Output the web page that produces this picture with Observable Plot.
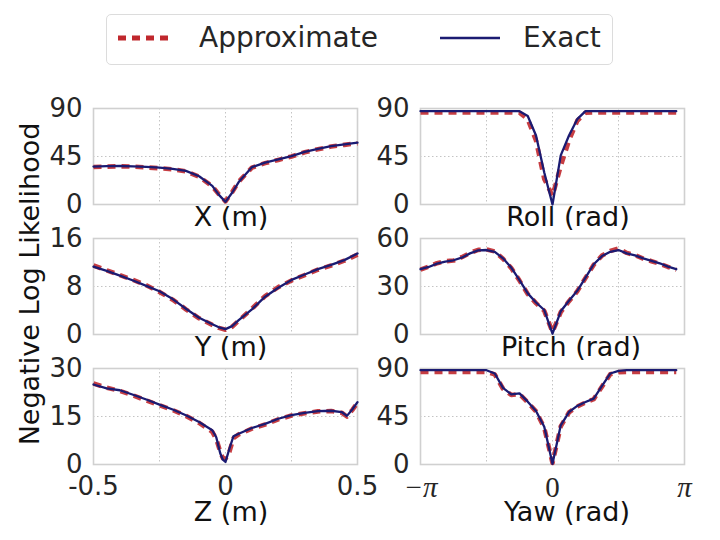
<!DOCTYPE html>
<html><head><meta charset="utf-8">
<script src="https://cdn.jsdelivr.net/npm/d3@7"></script>
<script src="https://cdn.jsdelivr.net/npm/@observablehq/plot@0.6"></script>
<style>
body{margin:0;background:#fff;}
#fig{position:relative;width:720px;height:540px;background:#fff;font-family:"DejaVu Sans",sans-serif;overflow:hidden;}
.txt{position:absolute;line-height:1;white-space:nowrap;}
.xlab{font-size:27px;color:#111;transform:translateX(-50%);}
</style></head><body><div id="fig"></div>
<script>
// ---- data ----
const leftX = [-0.5,-0.45,-0.4,-0.35,-0.3,-0.25,-0.2,-0.15,-0.1,-0.05,-0.025,0,0.025,0.05,0.1,0.15,0.2,0.25,0.3,0.35,0.4,0.45,0.5];
const xExact  = [35.6,35.9,36.1,35.8,35.2,34.5,33.4,31.5,26.5,17.5,9.0,2.5,11.0,21.0,35.0,39.3,42.2,45.3,49.3,52.2,54.8,56.3,58.0];
const xApprox = [35.2,35.5,35.8,35.5,34.8,34.0,33.0,31.0,26.0,17.0,9.5,3.0,11.5,21.5,34.5,38.8,41.8,45.0,49.0,51.8,54.3,55.9,57.5];
const yExact  = [11.3,10.6,9.8,9.0,8.1,7.2,5.9,4.3,2.8,1.7,1.2,0.9,1.4,2.4,4.2,6.3,7.8,9.1,10.0,10.9,11.6,12.4,13.5];
const yApprox = [11.5,10.7,9.9,9.1,8.2,7.1,5.8,4.2,2.7,1.6,1.1,0.8,1.3,2.3,4.3,6.4,7.9,9.0,9.9,10.8,11.5,12.3,13.3];
const zX = [-0.5,-0.45,-0.4,-0.35,-0.3,-0.25,-0.2,-0.15,-0.1,-0.05,-0.035,-0.02,-0.01,0,0.015,0.03,0.05,0.1,0.15,0.2,0.25,0.3,0.35,0.4,0.44,0.46,0.48,0.5];
const zExact  = [25.0,23.8,23.2,21.8,20.3,18.7,17.2,15.4,13.3,10.7,8.5,3.5,1.5,0.8,5.0,8.8,9.6,11.4,12.7,14.3,15.4,16.1,16.7,16.8,16.4,15.2,17.2,19.5];
const zApprox = [25.3,24.0,23.0,21.6,20.0,18.5,17.0,15.2,13.0,10.2,8.0,4.0,2.0,1.8,4.0,8.2,9.4,11.2,12.5,14.1,15.3,16.0,16.6,16.7,16.2,15.0,17.0,19.3];

const angles = [-3.1416,-2.9452,-2.7489,-2.5525,-2.3562,-2.1598,-1.9635,-1.7671,-1.5708,-1.3744,-1.1781,-0.9817,-0.7854,-0.5890,-0.3927,-0.1963,0,0.1963,0.3927,0.5890,0.7854,0.9817,1.1781,1.3744,1.5708,1.7671,1.9635,2.1598,2.3562,2.5525,2.7489,2.9452];
const rollExact  = [87.5,87.5,87.5,87.5,87.5,87.5,87.5,87.5,87.5,87.5,87.5,87.5,87.5,83.0,64.7,30.0,0.0,46.0,64.7,80.0,87.5,87.5,87.5,87.5,87.5,87.5,87.5,87.5,87.5,87.5,87.5,87.5];
const rollApprox = [86.3,86.3,86.3,86.3,86.3,86.3,86.3,86.3,86.3,86.3,86.3,86.3,86.0,80.0,60.0,24.0,8.0,36.0,60.0,78.5,86.0,86.3,86.3,86.3,86.3,86.3,86.3,86.3,86.3,86.3,86.3,86.3];
const pitchExact  = [40.8,42.2,44.3,45.5,46.4,48.0,50.7,52.6,52.8,51.7,47.6,41.8,34.0,25.7,20.0,15.3,0.5,14.5,21.1,27.3,35.6,43.9,49.0,51.7,52.8,50.7,49.5,47.6,46.0,44.5,42.4,40.8];
const pitchApprox = [40.5,42.4,44.6,45.8,46.2,48.3,51.0,52.9,53.2,51.9,47.3,41.5,33.7,25.3,19.6,14.8,1.5,14.0,20.8,27.0,35.3,43.6,49.3,52.2,53.8,51.0,49.6,47.4,45.8,44.2,42.2,40.5];
const yawExact  = [88.4,88.4,88.4,88.4,88.4,88.4,88.4,88.4,88.4,85.3,71.8,65.8,66.7,58.9,50.2,35.4,0.6,36.7,49.2,54.9,58.6,61.8,73.6,85.3,87.8,88.4,88.4,88.4,88.4,88.4,88.4,88.4];
const yawApprox = [86.8,86.8,86.8,86.8,86.8,86.8,86.8,86.8,86.8,84.5,71.0,65.2,66.0,58.3,49.8,34.5,1.5,35.8,48.8,54.4,58.1,61.3,73.0,84.6,86.6,86.8,86.8,86.8,86.8,86.8,86.8,86.8];

const leftTicks = [-0.5, 0, 0.5];
const leftTickLabels = ["-0.5", "0", "0.5"];
const leftGrid = [-0.25, 0, 0.25];
const rightTicks = [-3.14159265, 0, 3.14159265];
const rightTickLabels = ["\u2212\u03c0", "0", "\u03c0"];
const rightGrid = [-1.5707963, 0, 1.5707963];
const seriesNames = ["Approximate", "Exact"];
const axisLabels = ["X (m)", "Roll (rad)", "Y (m)", "Pitch (rad)", "Z (m)", "Yaw (rad)"];
const yLabel = "Negative Log Likelihood";

const RED = "#c0282d", BLUE = "#1b1b72";
const fig = document.getElementById("fig");

function panel(o) {
  const mL = 85, mR = 30, mT = 20, mB = o.bottom ? 50 : 20, W = 264, H = 96;
  const data = o.x.map((d, i) => ({x: d, exact: o.exact[i], approx: o.approx[i]}));
  const gridStyle = {stroke: "#c4c4c4", strokeOpacity: 1, strokeDasharray: "1.5,2.5", strokeWidth: 1};
  const marks = [
    Plot.gridX(o.grid, gridStyle),
    Plot.gridY([o.yTicks[1]], gridStyle),
    Plot.frame({stroke: "#d0d0d0", strokeWidth: 1.6}),
    Plot.axisY(o.yTicks, {tickSize: 0, tickPadding: 11, fontSize: 26, label: null}),
    Plot.line(data, {x: "x", y: "approx", stroke: RED, strokeWidth: 4.6, strokeDasharray: "8,6", strokeLinecap: "butt", strokeOpacity: 0.9}),
    Plot.line(data, {x: "x", y: "exact", stroke: BLUE, strokeWidth: 2.3})
  ];
  if (o.bottom) {
    const axOpts = {tickSize: 0, tickPadding: 12, fontSize: o.serif ? 29 : 26, label: null,
      tickFormat: d => o.tickLabels[o.ticks.indexOf(d)]};
    if (o.serif) axOpts.fontFamily = "Liberation Serif";
    marks.push(Plot.axisX(o.ticks, axOpts));
  }
  const svg = Plot.plot({
    width: mL + W + mR, height: mT + H + mB,
    marginLeft: mL, marginRight: mR, marginTop: mT, marginBottom: mB,
    x: {domain: o.xDomain, axis: o.bottom ? undefined : null},
    y: {domain: o.yDomain},
    style: {background: "transparent", fontFamily: "DejaVu Sans", fontSize: "26px", color: "#262626", overflow: "visible"},
    marks
  });
  svg.style.position = "absolute";
  svg.style.left = (o.left - mL) + "px";
  svg.style.top = (o.top - mT) + "px";
  if (o.serif) d3.select(svg).selectAll("text").each(function() {
    if (this.textContent.includes("\u03c0")) this.style.fontStyle = "italic";
  });
  fig.appendChild(svg);
}

const L = 93, R = 420, T = [108, 238, 368];
panel({x: leftX, exact: xExact, approx: xApprox, xDomain: [-0.5, 0.5], yDomain: [0, 90], yTicks: [0, 45, 90], grid: leftGrid, left: L, top: T[0]});
panel({x: angles, exact: rollExact, approx: rollApprox, xDomain: [-3.14159265, 3.14159265], yDomain: [0, 90], yTicks: [0, 45, 90], grid: rightGrid, left: R, top: T[0]});
panel({x: leftX, exact: yExact, approx: yApprox, xDomain: [-0.5, 0.5], yDomain: [0, 16], yTicks: [0, 8, 16], grid: leftGrid, left: L, top: T[1]});
panel({x: angles, exact: pitchExact, approx: pitchApprox, xDomain: [-3.14159265, 3.14159265], yDomain: [0, 60], yTicks: [0, 30, 60], grid: rightGrid, left: R, top: T[1]});
panel({x: zX, exact: zExact, approx: zApprox, xDomain: [-0.5, 0.5], yDomain: [0, 30], yTicks: [0, 15, 30], grid: leftGrid, left: L, top: T[2], bottom: true, ticks: leftTicks, tickLabels: leftTickLabels});
panel({x: angles, exact: yawExact, approx: yawApprox, xDomain: [-3.14159265, 3.14159265], yDomain: [0, 90], yTicks: [0, 45, 90], grid: rightGrid, left: R, top: T[2], bottom: true, ticks: rightTicks, tickLabels: rightTickLabels, serif: true});

// axis labels
const labelPos = [[231, 203], [568, 203], [231, 333], [571, 333], [231, 498], [567, 498]];
axisLabels.forEach((t, i) => {
  const d = document.createElement("div");
  d.className = "txt xlab"; d.textContent = t;
  d.style.left = labelPos[i][0] + "px"; d.style.top = labelPos[i][1] + "px";
  fig.appendChild(d);
});
const yl = document.createElement("div");
yl.className = "txt"; yl.textContent = yLabel;
Object.assign(yl.style, {left: "29px", top: "284px", fontSize: "27px", color: "#111", transform: "translate(-50%,-50%) rotate(-90deg)"});
fig.appendChild(yl);

// legend
const box = document.createElement("div");
Object.assign(box.style, {position: "absolute", left: "106px", top: "14px", width: "505px", height: "49px", border: "1px solid #dcdcdc", borderRadius: "5px"});
fig.appendChild(box);
const ns = "http://www.w3.org/2000/svg";
const lsvg = document.createElementNS(ns, "svg");
lsvg.setAttribute("width", 720); lsvg.setAttribute("height", 70);
lsvg.style.position = "absolute"; lsvg.style.left = "0px"; lsvg.style.top = "0px";
[[118, 172, RED, 5, "8,6"], [440, 500, BLUE, 2.5, null]].forEach(([x1, x2, c, w, da]) => {
  const ln = document.createElementNS(ns, "line");
  ln.setAttribute("x1", x1); ln.setAttribute("x2", x2); ln.setAttribute("y1", 38); ln.setAttribute("y2", 38);
  ln.setAttribute("stroke", c); ln.setAttribute("stroke-width", w);
  if (da) ln.setAttribute("stroke-dasharray", da);
  lsvg.appendChild(ln);
});
fig.appendChild(lsvg);
[[199, seriesNames[0]], [523, seriesNames[1]]].forEach(([x, t]) => {
  const d = document.createElement("div");
  d.className = "txt"; d.textContent = t;
  Object.assign(d.style, {left: x + "px", top: "24px", fontSize: "28px", color: "#262626"});
  fig.appendChild(d);
});
</script></body></html>
